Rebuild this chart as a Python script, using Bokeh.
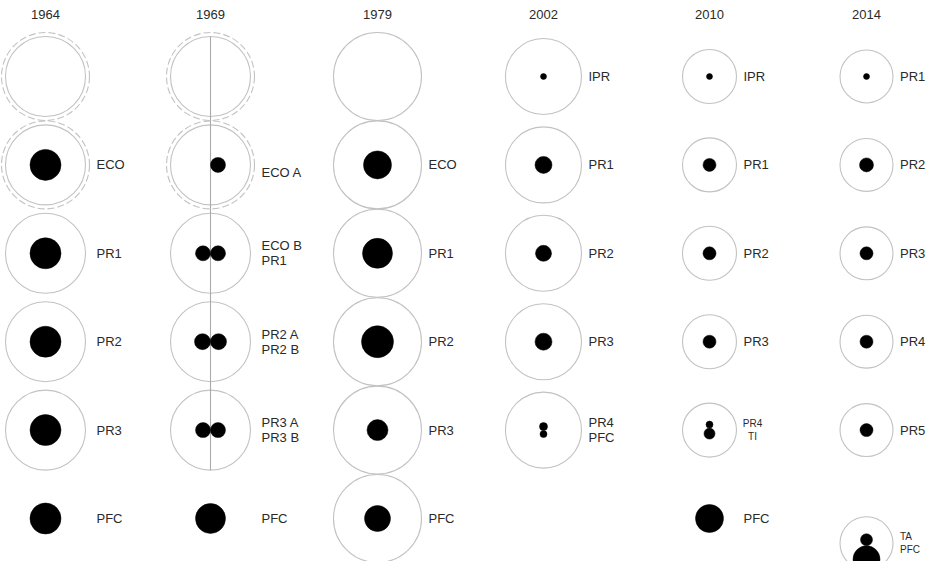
from bokeh.plotting import figure
from bokeh.models import Range1d, ColumnDataSource
from bokeh.core.properties import value
from bokeh.embed import file_html
from bokeh.resources import INLINE

# ---------------- data ----------------
years = ["1964", "1969", "1979", "2002", "2010", "2014"]

# outline rings (one per unit)
ring_year = ["1964"] * 5 + ["1969"] * 5 + ["1979"] * 6 + ["2002"] * 5 + ["2010"] * 5 + ["2014"] * 6
ring_row = [0, 1, 2, 3, 4] * 2 + [0, 1, 2, 3, 4, 5] + [0, 1, 2, 3, 4] * 2 + [0, 1, 2, 3, 4, 5.28]
ring_r = [40] * 5 + [40] * 5 + [44] * 6 + [38] * 5 + [27] * 5 + [26.5] * 6

# dashed outer rings
dash_year = ["1964", "1964", "1969", "1969"]
dash_row = [0, 1, 0, 1]
dash_r = [44, 44, 44, 44]

# split (divided units) in 1969
split_year = ["1969"]
split_first = [0]
split_last = [4]
split_r = [40]

# black discs: year, row, radius, placement (C centre, L/R side by side, T/B stacked)
disc_year = (["1964"] * 5
             + ["1969"] * 8
             + ["1979"] * 5
             + ["2002"] * 6
             + ["2010"] * 7
             + ["2014"] * 7)
disc_row = ([1, 2, 3, 4, 5]
            + [1, 2, 2, 3, 3, 4, 4, 5]
            + [1, 2, 3, 4, 5]
            + [0, 1, 2, 3, 4, 4]
            + [0, 1, 2, 3, 4, 4, 5]
            + [0, 1, 2, 3, 4, 5.28, 5.28])
disc_r = ([15.5, 15.5, 15.5, 15.5, 15.5]
          + [7.5, 7.5, 7.5, 8, 8, 7.5, 7.5, 15]
          + [14, 15, 16, 10.5, 13]
          + [3, 8.5, 8, 8.5, 4, 3.5]
          + [3, 6.5, 6.5, 6.5, 3.5, 5.5, 14]
          + [3, 7, 6.5, 6.5, 6.5, 6, 13.5])
disc_place = (["C"] * 5
              + ["R", "L", "R", "L", "R", "L", "R", "C"]
              + ["C"] * 5
              + ["C", "C", "C", "C", "T", "B"]
              + ["C", "C", "C", "C", "T", "B", "C"]
              + ["C", "C", "C", "C", "C", "T", "B"])

# labels
label_year = (["1964"] * 5 + ["1969"] * 5 + ["1979"] * 5 + ["2002"] * 5
              + ["2010"] * 6 + ["2014"] * 6)
label_row = ([1, 2, 3, 4, 5] + [1, 2, 3, 4, 5] + [1, 2, 3, 4, 5] + [0, 1, 2, 3, 4]
             + [0, 1, 2, 3, 4, 5] + [0, 1, 2, 3, 4, 5.28])
label_text = (["ECO", "PR1", "PR2", "PR3", "PFC"]
              + ["ECO A", "ECO B\nPR1", "PR2 A\nPR2 B", "PR3 A\nPR3 B", "PFC"]
              + ["ECO", "PR1", "PR2", "PR3", "PFC"]
              + ["IPR", "PR1", "PR2", "PR3", "PR4\nPFC"]
              + ["IPR", "PR1", "PR2", "PR3", "PR4\nTI", "PFC"]
              + ["PR1", "PR2", "PR3", "PR4", "PR5", "TA\nPFC"])
label_small = ([False] * 20 + [False, False, False, False, True, False]
               + [False, False, False, False, False, True])

# ---------------- layout ----------------
col_x = dict(zip(years, [53, 218, 385, 551, 717, 874]))
row0_y, row_step, title_y = 84, 88.4, 22
stack_shift = {("2014", 5.28): 10}
label_nudge = {("1969", 1): 8}
centered_labels = {("2010", 4)}
ring_color = "#c2c2c2"
text_color = "#2a2a2a"
font = value("Liberation Sans")


def row_y(r):
    return row0_y + row_step * r


outer = {}
for y, r in zip(ring_year, ring_r):
    outer[y] = max(outer.get(y, 0), r)
for y, r in zip(dash_year, dash_r):
    outer[y] = max(outer.get(y, 0), r)

p = figure(width=927, height=561, x_range=Range1d(8, 935), y_range=Range1d(569, 8),
           output_backend="svg", toolbar_location=None, min_border=0)
p.axis.visible = False
p.grid.visible = False
p.outline_line_color = None
p.background_fill_color = "white"
p.border_fill_color = "white"

# rings
p.circle(x=[col_x[y] for y in ring_year], y=[row_y(r) for r in ring_row], radius=ring_r,
         fill_color=None, line_color=ring_color, line_width=1.1)
p.circle(x=[col_x[y] for y in dash_year], y=[row_y(r) for r in dash_row], radius=dash_r,
         fill_color=None, line_color=ring_color, line_width=1.1, line_dash="7 3")
p.segment(x0=[col_x[y] for y in split_year], y0=[row_y(a) - r for a, r in zip(split_first, split_r)],
          x1=[col_x[y] for y in split_year], y1=[row_y(b) + r for b, r in zip(split_last, split_r)],
          line_color="#aaaaaa", line_width=1.1)

# discs
dx, dy = [], []
pair_r = {}
for y, rw, r, pl in zip(disc_year, disc_row, disc_r, disc_place):
    pair_r.setdefault((y, rw), {})[pl] = r
for y, rw, r, pl in zip(disc_year, disc_row, disc_r, disc_place):
    shift = stack_shift.get((y, rw), 0)
    if pl == "L":
        dx.append(col_x[y] - r); dy.append(row_y(rw))
    elif pl == "R":
        dx.append(col_x[y] + r); dy.append(row_y(rw))
    elif pl == "T":
        dx.append(col_x[y]); dy.append(row_y(rw) - pair_r[(y, rw)]["B"] + shift)
    elif pl == "B":
        dx.append(col_x[y]); dy.append(row_y(rw) + pair_r[(y, rw)]["T"] + shift)
    else:
        dx.append(col_x[y]); dy.append(row_y(rw))
p.circle(x=dx, y=dy, radius=disc_r, fill_color="black", line_color="black", line_width=0.5)

# labels
lx, ly, lt, lsize, lalign = [], [], [], [], []
for y, rw, txt, small in zip(label_year, label_row, label_text, label_small):
    lines = txt.split("\n")
    n = len(lines)
    spacing = 13 if small else 15
    centered = (y, rw) in centered_labels
    x0 = col_x[y] + outer[y] + 7 + (9 if centered else 0)
    for i, line in enumerate(lines):
        lx.append(x0)
        ly.append(row_y(rw) + (i - (n - 1) / 2) * spacing + label_nudge.get((y, rw), 0))
        lt.append(line)
        lsize.append("10px" if small else "13px")
        lalign.append("center" if centered else "left")
src = ColumnDataSource(dict(x=lx, y=ly, text=lt, size=lsize, align=lalign))
p.text(x="x", y="y", text="text", source=src, text_font=font, text_font_size="size",
       text_align="align", text_baseline="middle", text_color=text_color)

# titles
p.text(x=[col_x[y] for y in years], y=[title_y] * len(years), text=years, text_font=font,
       text_font_size="13px", text_align="center", text_baseline="middle", text_color=text_color)

open("out.html", "w").write(file_html(p, INLINE))
